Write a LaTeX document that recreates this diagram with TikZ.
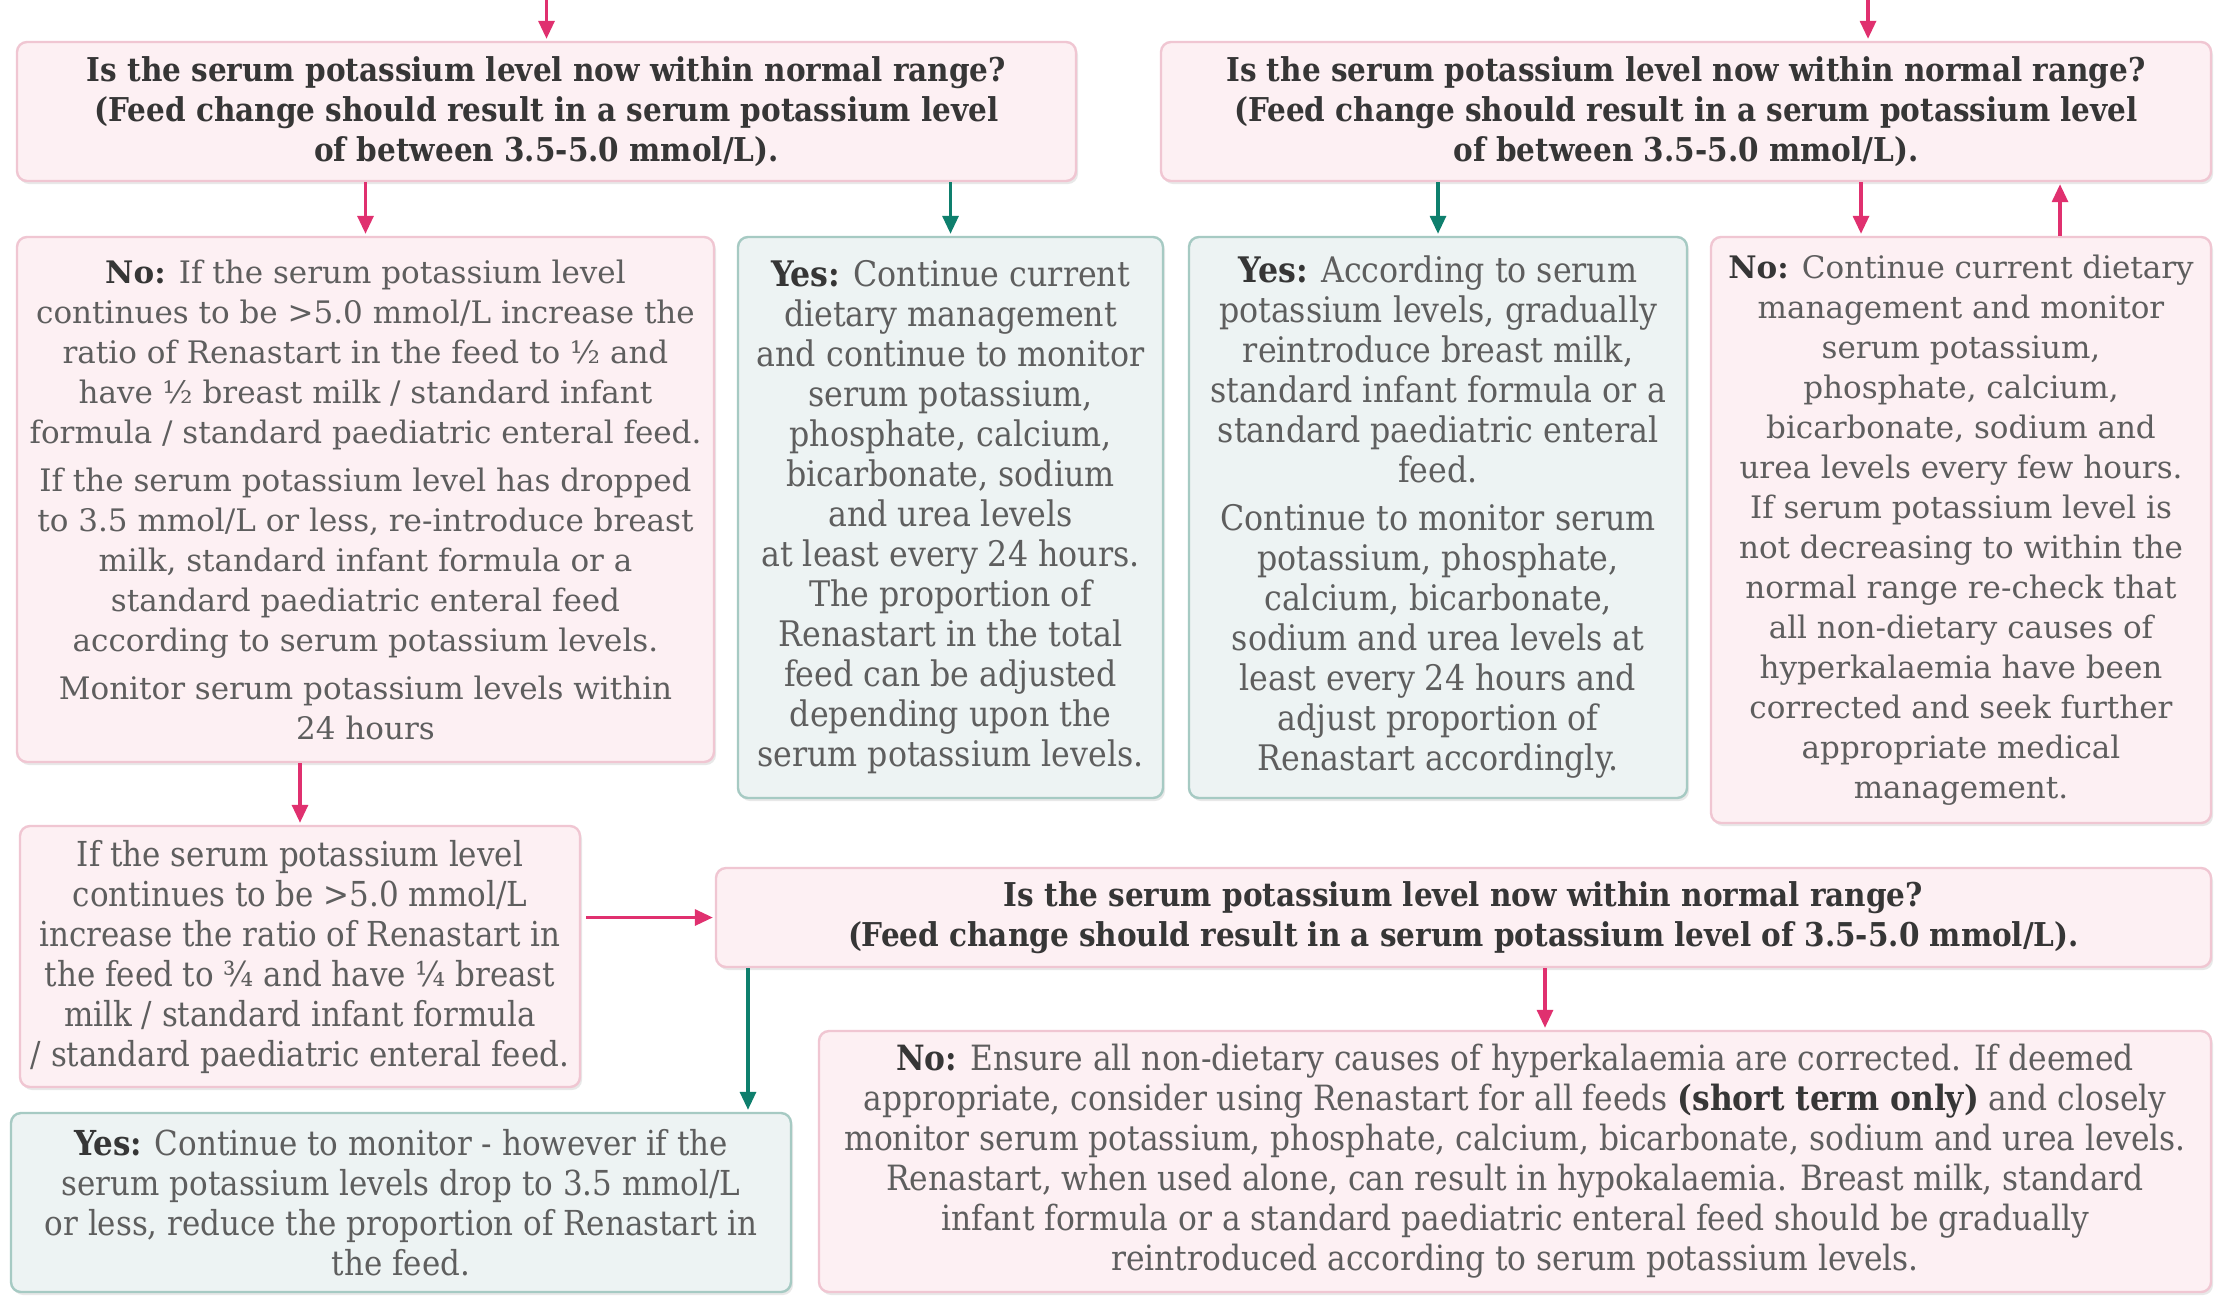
\documentclass[tikz,border=0pt]{standalone}
\usepackage{fontspec}
\setmainfont{DejaVu Serif}
\newfontfamily\condfont{DejaVu Serif Condensed}
\usetikzlibrary{arrows.meta,shadows}
\definecolor{pinkfill}{HTML}{FDF0F3}
\definecolor{pinkdraw}{HTML}{F0C6D2}
\definecolor{tealfill}{HTML}{EDF3F3}
\definecolor{tealdraw}{HTML}{A6CAC3}
\definecolor{magarrow}{HTML}{E0306F}
\definecolor{tealarrow}{HTML}{0E7F6D}
\definecolor{txt}{HTML}{5E5E5E}
\definecolor{labcol}{HTML}{363636}
\newcommand{\lab}[1]{\textcolor{labcol}{\textbf{#1}}}
\begin{document}
\begin{tikzpicture}[x=0.5pt,y=-0.5pt,
  box/.style={rounded corners=5pt, line width=1.2pt, align=center, inner sep=0pt, text=txt,
    drop shadow={shadow xshift=1pt,shadow yshift=-1.5pt,opacity=0.18}},
  pinkbox/.style={box, fill=pinkfill, draw=pinkdraw},
  tealbox/.style={box, fill=tealfill, draw=tealdraw},
  qbox/.style={pinkbox, text=labcol, font={\condfont\bfseries\fontsize{16.4}{20}\selectfont}},
  parr/.style={-{Triangle[length=9pt,width=8pt]}, line width=1.6pt, draw=magarrow, shorten >=1pt},
  tarr/.style={-{Triangle[length=9pt,width=8pt]}, line width=1.6pt, draw=tealarrow, shorten >=1pt}]
\useasboundingbox (0,0) rectangle (2214,1297);
\fill[white] (0,0) rectangle (2214,1297);

% question boxes
\node[qbox, minimum width=529.5pt, minimum height=69.5pt] (q1) at (546.5,111.5)
 {Is the serum potassium level now within normal range?\\
  (Feed change should result in a serum potassium level\\
  of between 3.5-5.0 mmol/L).};
\node[qbox, minimum width=525pt, minimum height=69.5pt] (q2) at (1686,111.5)
 {Is the serum potassium level now within normal range?\\
  (Feed change should result in a serum potassium level\\
  of between 3.5-5.0 mmol/L).};

% second row
\node[pinkbox, minimum width=348.5pt, minimum height=262.5pt,
  font={\fontsize{15.5}{20}\selectfont}] (no1) at (365.5,499.5)
 {\lab{No:} If the serum potassium level\\
  continues to be >5.0 mmol/L increase the\\
  ratio of Renastart in the feed to ½ and\\
  have ½ breast milk / standard infant\\
  formula / standard paediatric enteral feed.\\[4pt]
  If the serum potassium level has dropped\\
  to 3.5 mmol/L or less, re-introduce breast\\
  milk, standard infant formula or a\\
  standard paediatric enteral feed\\
  according to serum potassium levels.\\[4pt]
  Monitor serum potassium levels within\\
  24 hours};

\node[tealbox, minimum width=212.5pt, minimum height=280.5pt,
  font={\condfont\fontsize{17.6}{20}\selectfont}] (yes1) at (950.5,517.5)
 {\lab{Yes:} Continue current\\
  dietary management\\
  and continue to monitor\\
  serum potassium,\\
  phosphate, calcium,\\
  bicarbonate, sodium\\
  and urea levels\\
  at least every 24 hours.\\
  The proportion of\\
  Renastart in the total\\
  feed can be adjusted\\
  depending upon the\\
  serum potassium levels.};

\node[tealbox, minimum width=249pt, minimum height=280.5pt,
  font={\condfont\fontsize{17.6}{20}\selectfont}] (yes2) at (1438,517.5)
 {\lab{Yes:} According to serum\\
  potassium levels, gradually\\
  reintroduce breast milk,\\
  standard infant formula or a\\
  standard paediatric enteral\\
  feed.\\[4pt]
  Continue to monitor serum\\
  potassium, phosphate,\\
  calcium, bicarbonate,\\
  sodium and urea levels at\\
  least every 24 hours and\\
  adjust proportion of\\
  Renastart accordingly.};

\node[pinkbox, minimum width=250pt, minimum height=293pt,
  font={\fontsize{15.5}{20}\selectfont}] (no2) at (1961,530)
 {\lab{No:} Continue current dietary\\
  management and monitor\\
  serum potassium,\\
  phosphate, calcium,\\
  bicarbonate, sodium and\\
  urea levels every few hours.\\
  If serum potassium level is\\
  not decreasing to within the\\
  normal range re-check that\\
  all non-dietary causes of\\
  hyperkalaemia have been\\
  corrected and seek further\\
  appropriate medical\\
  management.};

% third row
\node[pinkbox, minimum width=280pt, minimum height=130.5pt,
  font={\condfont\fontsize{17.2}{20}\selectfont}] (b3) at (300,956.5)
 {If the serum potassium level\\
  continues to be >5.0 mmol/L\\
  increase the ratio of Renastart in\\
  the feed to ¾ and have ¼ breast\\
  milk / standard infant formula\\
  / standard paediatric enteral feed.};

\node[qbox, minimum width=747.5pt, minimum height=49.5pt] (q3) at (1463.5,917.5)
 {Is the serum potassium level now within normal range?\\
  (Feed change should result in a serum potassium level of 3.5-5.0 mmol/L).};

\node[tealbox, minimum width=390pt, minimum height=89.5pt,
  font={\condfont\fontsize{17.2}{20}\selectfont}] (yes3) at (401,1202.5)
 {\lab{Yes:} Continue to monitor - however if the\\
  serum potassium levels drop to 3.5 mmol/L\\
  or less, reduce the proportion of Renastart in\\
  the feed.};

\node[pinkbox, minimum width=696pt, minimum height=130.5pt,
  font={\condfont\fontsize{17.4}{20}\selectfont}] (no3) at (1515,1161.5)
 {\lab{No:} Ensure all non-dietary causes of hyperkalaemia are corrected. If deemed\\
  appropriate, consider using Renastart for all feeds \lab{(short term only)} and closely\\
  monitor serum potassium, phosphate, calcium, bicarbonate, sodium and urea levels.\\
  Renastart, when used alone, can result in hypokalaemia. Breast milk, standard\\
  infant formula or a standard paediatric enteral feed should be gradually\\
  reintroduced according to serum potassium levels.};

% connectors
\coordinate (top1) at (546.5,0);
\coordinate (top2) at (1868,0);
\coordinate (c1) at (1861,0);
\coordinate (c2) at (2060,0);
\coordinate (c3) at (748,0);
\coordinate (c4) at (1545,0);

\draw[parr] (top1) -- (q1.north);
\draw[parr] (top2) -- (top2 |- q2.north);
\draw[parr] (q1.south -| no1.north) -- (no1.north);
\draw[tarr] (q1.south -| yes1.north) -- (yes1.north);
\draw[tarr] (q2.south -| yes2.north) -- (yes2.north);
\draw[parr] (q2.south -| c1) -- (no2.north -| c1);
\draw[parr] (no2.north -| c2) -- (q2.south -| c2);
\draw[parr] (no1.south -| b3.north) -- (b3.north);
\draw[parr, shorten <=2.5pt] (b3.east |- q3.west) -- (q3.west);
\draw[tarr] (q3.south -| c3) -- (yes3.north -| c3);
\draw[parr] (q3.south -| c4) -- (no3.north -| c4);
\end{tikzpicture}
\end{document}
